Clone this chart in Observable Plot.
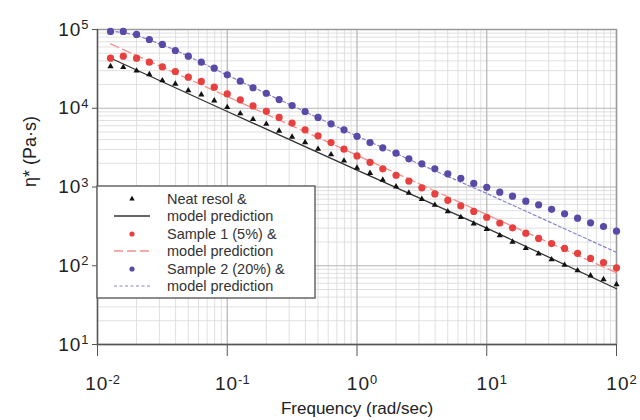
<!DOCTYPE html>
<html>
<head>
<meta charset="utf-8">
<script src="https://cdn.jsdelivr.net/npm/d3@7"></script>
<script src="https://cdn.jsdelivr.net/npm/@observablehq/plot@0.6"></script>
<style>
  html, body { margin: 0; padding: 0; background: #fff; }
  #chart { width: 640px; height: 420px; }
  svg { font-family: "Liberation Sans", Arial, Helvetica, sans-serif; }
</style>
</head>
<body>
<div id="chart"></div>
<script>
// ---- data ----
const frequency = [0.0126,0.0158,0.02,0.0251,0.0316,0.0398,0.0501,0.0631,0.0794,0.1,
  0.126,0.158,0.2,0.251,0.316,0.398,0.501,0.631,0.794,1,
  1.26,1.58,2,2.51,3.16,3.98,5.01,6.31,7.94,10,
  12.6,15.8,20,25.1,31.6,39.8,50.1,63.1,79.4,100];

const neatResol = [34000,33200,29900,26900,22500,20400,16800,14900,12500,10300,
  8570,7240,6310,5160,4330,3690,3040,2580,2150,1750,
  1500,1230,1010,841,700,590,489,413,341,292,
  242,201,167,142,120,102,87,75,67,58];

const sample1 = [43300,45800,43300,38500,33500,29300,24800,21900,18500,15200,
  12800,10700,9140,7640,6490,5320,4470,3670,3020,2480,
  2060,1700,1410,1190,977,817,678,577,489,413,
  349,303,259,222,191,166,144,124,110,94];

const sample2 = [94400,94400,86500,74600,64600,54100,45800,38500,32300,26600,
  22100,18200,15500,12900,10800,9100,7640,6340,5320,4400,
  3670,3140,2690,2280,1970,1700,1470,1290,1110,990,
  859,764,661,594,520,457,402,351,315,275];

// model predictions
const modelNeatX = [0.0133, 0.1, 1, 10, 100];
const modelNeatY = [41600, 9100, 1640, 300, 51];
const model1X = [0.0126, 0.1, 1, 10, 100];
const model1Y = [65800, 14100, 2530, 445, 81.5];
const model2X = [0.0126, 0.02, 0.0398, 0.1, 1, 3.16, 10, 100];
const model2Y = [96600, 85100, 55000, 26300, 4420, 1900, 828, 148];

const xDecades = [0.01, 0.1, 1, 10, 100];
const yDecades = [10, 100, 1000, 10000, 100000];

const legendLabels = ["Neat resol &", "model prediction", "Sample 1 (5%) &", "model prediction", "Sample 2 (20%) &", "model prediction"];

// ---- build ----
const C = {black: "#111111", red: "#e8403f", purple: "#5b49a8",
  blackLine: "#333333", redLine: "#f2908c", purpleLine: "#8585cc"};

const pts = (ys) => frequency.map((f, i) => ({f, v: ys[i]}));
const line = (xs, ys) => xs.map((f, i) => ({f, v: ys[i]}));

const minorX = [], minorY = [];
for (let i = 0; i < xDecades.length - 1; i++) for (let m = 2; m <= 9; m++) minorX.push(xDecades[i] * m);
for (let i = 0; i < yDecades.length - 1; i++) for (let m = 2; m <= 9; m++) minorY.push(yDecades[i] * m);

const fmt = d => "10^" + Math.round(Math.log10(d));

const plot = Plot.plot({
  width: 640, height: 420,
  marginLeft: 97, marginRight: 24, marginTop: 29, marginBottom: 76,
  style: {fontFamily: "Liberation Sans, Arial, sans-serif", background: "white"},
  x: {type: "log", domain: [0.01, 100]},
  y: {type: "log", domain: [10, 100000]},
  marks: [
    Plot.gridX(minorX, {stroke: "#d8d8d8", strokeOpacity: 1, strokeWidth: 0.8}),
    Plot.gridY(minorY, {stroke: "#d8d8d8", strokeOpacity: 1, strokeWidth: 0.8}),
    Plot.gridX(xDecades, {stroke: "#b4b4b4", strokeOpacity: 1, strokeWidth: 1.2}),
    Plot.gridY(yDecades, {stroke: "#b4b4b4", strokeOpacity: 1, strokeWidth: 1.2}),
    Plot.frame({stroke: "#9a9a9a", strokeWidth: 1.5}),
    Plot.ruleY([10], {stroke: "#555", strokeWidth: 1.3}),
    Plot.ruleX([0.01], {stroke: "#555", strokeWidth: 1.3}),
    Plot.axisX(xDecades, {tickSize: 12, tickPadding: 20, fontSize: 19, tickFormat: fmt, stroke: "#555", color: "#222", label: null}),
    Plot.axisY(yDecades, {tickSize: 5, tickPadding: 4, fontSize: 19, tickFormat: fmt, stroke: "#555", color: "#222", label: null}),
    Plot.line(line(modelNeatX, modelNeatY), {x: "f", y: "v", stroke: C.blackLine, strokeWidth: 1.3}),
    Plot.line(line(model1X, model1Y), {x: "f", y: "v", stroke: C.redLine, strokeWidth: 1.3, strokeDasharray: "9,4"}),
    Plot.line(line(model2X, model2Y), {x: "f", y: "v", stroke: C.purpleLine, strokeWidth: 1.2, strokeDasharray: "3,2.5"}),
    Plot.dot(pts(sample2), {x: "f", y: "v", r: 3.6, fill: C.purple, stroke: "none"}),
    Plot.dot(pts(sample1), {x: "f", y: "v", r: 3.6, fill: C.red, stroke: "none"}),
    Plot.dot(pts(neatResol), {x: "f", y: "v", r: 2.3, symbol: "triangle", fill: C.black, stroke: "none"}),
    Plot.text(["Frequency (rad/sec)"], {frameAnchor: "bottom", dy: 64, fontSize: 17, fill: "#222", lineAnchor: "middle"}),
    Plot.text(["η* (Pa·s)"], {frameAnchor: "left", dx: -67, rotate: -90, fontSize: 18, fill: "#222", lineAnchor: "middle"})
  ]
});

document.getElementById("chart").appendChild(plot);
const svg = d3.select(plot);

// superscript exponents on tick labels
svg.selectAll('g[aria-label="x-axis tick label"] text, g[aria-label="y-axis tick label"] text').each(function() {
  const t = this.textContent;
  if (!t.includes("^")) return;
  const [b, e] = t.split("^");
  const el = d3.select(this);
  el.text(null).attr("letter-spacing", "1px");
  el.append("tspan").text(b);
  el.append("tspan").attr("dy", "-0.5em").attr("font-size", "0.68em").attr("letter-spacing", "0px").text(e);
});
svg.selectAll('g[aria-label="x-axis tick label"] text').attr("dx", 5);

// legend (drawn on top)
const lg = svg.append("g").attr("class", "legend").attr("text-anchor", "start");
lg.append("rect").attr("x", 97).attr("y", 186).attr("width", 218).attr("height", 112)
  .attr("fill", "white").attr("stroke", "#666").attr("stroke-width", 1.5);
const rowY = [199, 216, 234, 251, 269, 286];
lg.append("path").attr("d", d3.symbol(d3.symbolTriangle, 13)()).attr("transform", `translate(132,${rowY[0]})`).attr("fill", C.black);
lg.append("line").attr("x1", 114).attr("x2", 150).attr("y1", rowY[1]).attr("y2", rowY[1]).attr("stroke", C.blackLine).attr("stroke-width", 1.3);
lg.append("circle").attr("cx", 132).attr("cy", rowY[2]).attr("r", 2.6).attr("fill", C.red);
lg.append("line").attr("x1", 114).attr("x2", 150).attr("y1", rowY[3]).attr("y2", rowY[3]).attr("stroke", C.redLine).attr("stroke-width", 1.3).attr("stroke-dasharray", "9,4");
lg.append("circle").attr("cx", 132).attr("cy", rowY[4]).attr("r", 2.6).attr("fill", C.purple);
lg.append("line").attr("x1", 114).attr("x2", 150).attr("y1", rowY[5]).attr("y2", rowY[5]).attr("stroke", C.purpleLine).attr("stroke-width", 1.2).attr("stroke-dasharray", "3,2.5");
legendLabels.forEach((s, i) => {
  lg.append("text").attr("x", 167).attr("y", rowY[i]).attr("dy", "0.35em")
    .attr("text-anchor", "start").attr("font-size", 14.5).attr("fill", "#333").text(s);
});
</script>
</body>
</html>
